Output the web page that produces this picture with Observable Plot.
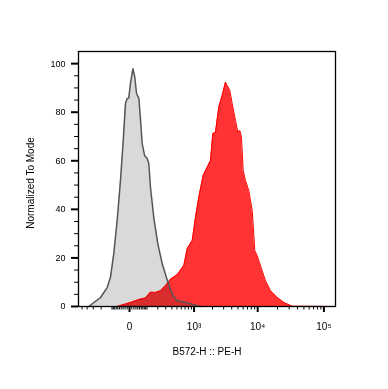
<!DOCTYPE html>
<html>
<head>
<meta charset="utf-8">
<script src="https://cdn.jsdelivr.net/npm/d3@7"></script>
<script src="https://cdn.jsdelivr.net/npm/@observablehq/plot@0.6"></script>
<style>
  html, body { margin: 0; padding: 0; background: #fff; }
  #chart { width: 388px; height: 389px; }
</style>
</head>
<body>
<div id="chart"></div>
<script>
// Control (gray) histogram: fluorescence value, % of mode
const grayX = [-371,-207,-140,-112,-87,-64,-44,-29,-18,-10,-3,4,15,24,33,46,56,66,82,101,114,128,158,199,252,312,364,424,505,764,1129,1280];
const grayY = [0,3.7,7.8,12.0,21.7,35.4,51.9,68.4,83.6,85.7,85.8,91.9,97.9,94.5,87.7,85.7,76.6,67.1,62.2,60.9,58.9,49.0,36.6,25.9,17.6,11.8,7.7,4.4,2.4,1.5,0.3,0];

// Stained (red) histogram
const redX = [-64,4,56,89,128,175,231,297,376,505,666,764,931,1058,1200,1417,1645,1859,2022,2232,2517,2848,3205,3408,3739,4076,4582,4966,5335,5662,6012,6522,7327,8260,9048,9844,11245,13152,15660,19776,24876,33324,140880];
const redY = [0,1.65,3.05,3.5,5.9,5.8,6.5,8.5,11.2,13.1,16.8,23.8,27.1,36.7,45,53.9,57.3,60.1,71.1,71.8,82.1,86.9,92.4,91.0,89.0,83.5,76.6,71.8,72.5,69.7,56.0,51.9,47.7,39.5,23.0,20.9,16.1,10.6,6.5,3.7,1.65,0.1,0];

const yMajorTicks = [0, 20, 40, 60, 80, 100];
const yMinorTicks = [5,10,15,25,30,35,45,50,55,65,70,75,85,90,95];
const xMajorTicks = [0, 1000, 10000, 100000];
const xMajorLabels = ["0", "10³", "10⁴", "10⁵"];
const xMinorTicks = [-500,-400,-300,-200,-100,-90,-80,-70,-60,-50,-40,-30,-20,-10,10,20,30,40,50,60,70,80,90,
  100,200,300,400,500,600,700,800,900,2000,3000,4000,5000,6000,7000,8000,9000,
  20000,30000,40000,50000,60000,70000,80000,90000];

const xTitle = "B572-H :: PE-H";
const yTitle = "Normalized To Mode";

const gray = grayX.map((x, i) => ({x, y: grayY[i]}));
const red = redX.map((x, i) => ({x, y: redY[i]}));

const chart = Plot.plot({
  width: 388,
  height: 389,
  marginLeft: 78,
  marginRight: 53,
  marginTop: 51,
  marginBottom: 83,
  style: {fontFamily: "'Liberation Sans', Arial, sans-serif", fontSize: "9px", background: "white", color: "black"},
  x: {type: "symlog", constant: 120, domain: [-581, 149400]},
  y: {domain: [0, 105]},
  marks: [
    Plot.areaY(gray, {x: "x", y: "y", fill: "#d9d9d9"}),
    Plot.areaY(red, {x: "x", y: "y", fill: "#ff3333", mixBlendMode: "multiply"}),
    Plot.lineY(red, {x: "x", y: "y", stroke: "#ff0000", strokeWidth: 1}),
    Plot.lineY(gray, {x: "x", y: "y", stroke: "#555555", strokeWidth: 1.5}),
    Plot.frame({stroke: "black", strokeWidth: 1.3}),
    Plot.axisY({ticks: yMajorTicks, tickSize: 7, strokeWidth: 2, tickPadding: 6, fontSize: 9, tickFormat: d => String(d), label: null}),
    Plot.axisY({ticks: yMinorTicks, tickSize: 4, strokeWidth: 1, text: null, label: null}),
    Plot.axisX({ticks: xMajorTicks, tickSize: 6, strokeWidth: 2, tickPadding: 10, fontSize: 10,
      tickFormat: d => xMajorLabels[xMajorTicks.indexOf(d)], label: null}),
    Plot.axisX({ticks: xMinorTicks, tickSize: 3.5, strokeWidth: 1, text: null, label: null}),
    Plot.text([xTitle], {frameAnchor: "bottom", dy: 45, lineAnchor: "middle", textAnchor: "middle", fontSize: 10, text: d => d}),
    Plot.text([yTitle], {frameAnchor: "left", dx: -48, dy: 4, rotate: -90, lineAnchor: "middle", textAnchor: "middle", fontSize: 10, text: d => d})
  ]
});
document.getElementById("chart").appendChild(chart);
</script>
</body>
</html>
